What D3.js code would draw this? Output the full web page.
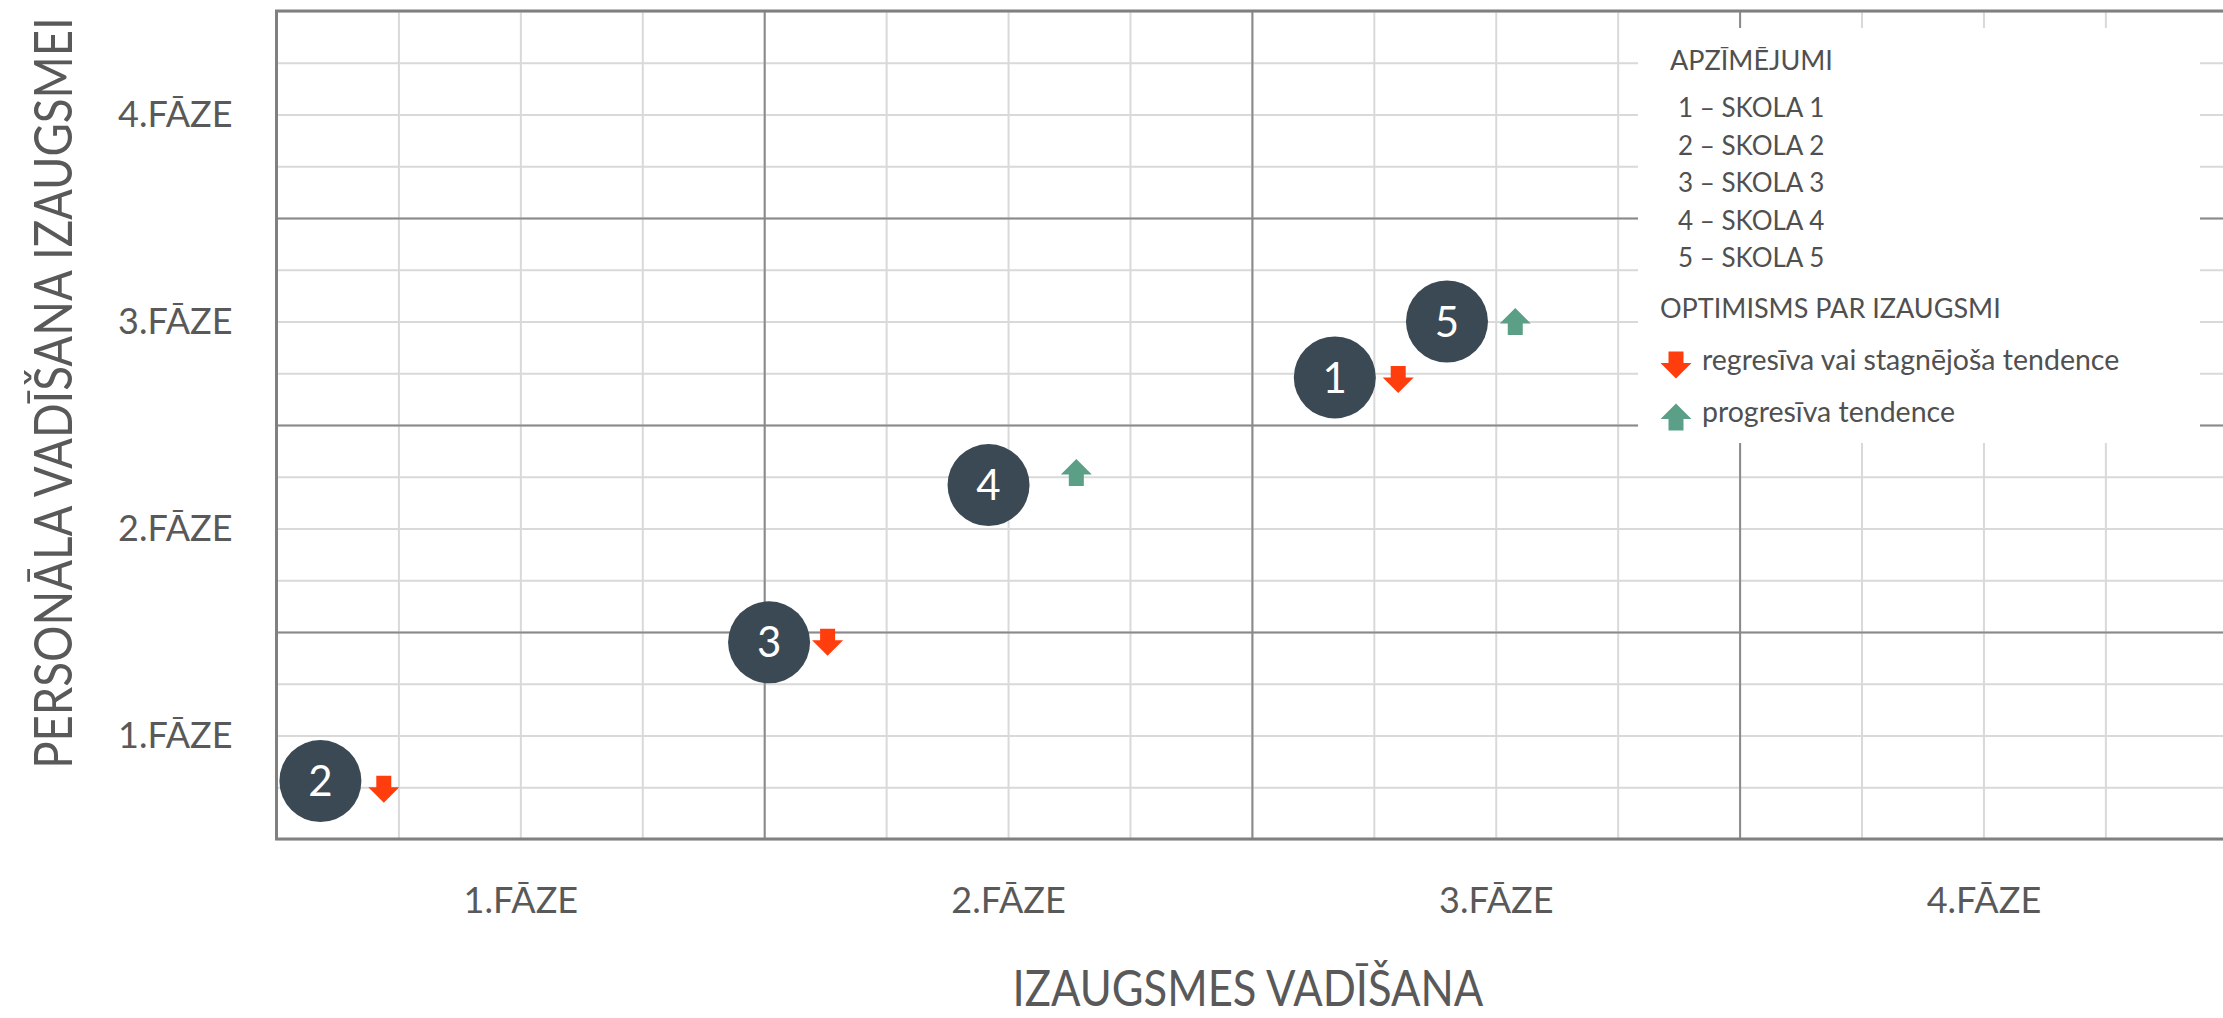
<!DOCTYPE html>
<html>
<head>
<meta charset="utf-8">
<script src="https://cdn.jsdelivr.net/npm/d3@7"></script>
<style>
    html, body { margin: 0; padding: 0; background: #fff; }
    svg { display: block; }
    text { font-family: Lato, "Open Sans", sans-serif; }
</style>
</head>
<body>
<svg id="chart" width="2223" height="1018"></svg>
<script>
// school positions, in phase units (0..4 on both axes)
var schools = ['1', '2', '3', '4', '5'];
var growthLeading = [2.17, 0.09, 1.01, 1.46, 2.40];
var staffLeading = [2.23, 0.28, 0.95, 1.71, 2.50];
// optimism arrow next to each school
var trends = ['down', 'down', 'down', 'up', 'up'];
var trendX = [2.30, 0.22, 1.13, 1.64, 2.54];
var trendY = [2.22, 0.24, 0.95, 1.77, 2.50];

var phaseLabels = ['1.FĀZE', '2.FĀZE', '3.FĀZE', '4.FĀZE'];
var phaseCenters = [0.5, 1.5, 2.5, 3.5];
var xTitle = 'IZAUGSMES VADĪŠANA';
var yTitle = 'PERSONĀLA VADĪŠANA IZAUGSMEI';
var legendTitle = 'APZĪMĒJUMI';
var legendSchools = ['1 – SKOLA 1', '2 – SKOLA 2', '3 – SKOLA 3', '4 – SKOLA 4', '5 – SKOLA 5'];
var trendTitle = 'OPTIMISMS PAR IZAUGSMI';
var trendKeys = ['down', 'up'];
var trendLabels = ['regresīva vai stagnējoša tendence', 'progresīva tendence'];

(function() {
    var left = 276.5;
    var top = 11;
    var bottom = 839;
    var phaseW = 487.7;

    var colors = { down: '#ff3d0d', up: '#5b9f87' };
    var dotColor = '#3a4954';
    var textColor = '#595959';

    var svg = d3.select('#chart');

    var x = d3.scaleLinear().domain([0, 4]).range([left, left + 4 * phaseW]);
    var y = d3.scaleLinear().domain([0, 4]).range([bottom, top]);

    var minorTicks = d3.range(0, 17).map(function(d) { return d / 4; });
    var majorTicks = [1, 2, 3];

    function grid(g, axis, color, width) {
        g.call(axis);
        g.select('.domain').remove();
        g.selectAll('.tick line').attr('stroke', color).attr('stroke-width', width);
    }

    // minor grid
    svg.append('g')
        .attr('transform', 'translate(0,' + bottom + ')')
        .call(grid, d3.axisBottom(x).tickValues(minorTicks).tickSize(-(bottom - top)).tickFormat(''), '#d9d9d9', 2);
    svg.append('g')
        .attr('transform', 'translate(' + left + ',0)')
        .call(grid, d3.axisLeft(y).tickValues(minorTicks).tickSize(-(x(4) - left)).tickFormat(''), '#d9d9d9', 2);

    // major grid
    svg.append('g')
        .attr('transform', 'translate(0,' + bottom + ')')
        .call(grid, d3.axisBottom(x).tickValues(majorTicks).tickSize(-(bottom - top)).tickFormat(''), '#8a8a8a', 2);
    svg.append('g')
        .attr('transform', 'translate(' + left + ',0)')
        .call(grid, d3.axisLeft(y).tickValues(majorTicks).tickSize(-(x(4) - left)).tickFormat(''), '#8a8a8a', 2);

    // frame
    svg.append('path')
        .attr('d', 'M' + x(4) + ',' + top + 'H' + left + 'V' + bottom + 'H' + x(4))
        .attr('fill', 'none')
        .attr('stroke', '#808080')
        .attr('stroke-width', 3);

    // phase labels
    var xAxis = svg.append('g')
        .attr('transform', 'translate(0,' + bottom + ')')
        .call(d3.axisBottom(x).tickValues(phaseCenters).tickSize(0).tickPadding(48)
            .tickFormat(function(d, i) { return phaseLabels[i]; }));
    var yAxis = svg.append('g')
        .attr('transform', 'translate(' + left + ',0)')
        .call(d3.axisLeft(y).tickValues(phaseCenters).tickSize(0).tickPadding(44)
            .tickFormat(function(d, i) { return phaseLabels[i]; }));
    [xAxis, yAxis].forEach(function(g) {
        g.select('.domain').remove();
        g.selectAll('text')
            .attr('fill', textColor)
            .style('font-size', '36px')
            .style('font-family', 'Lato, "Open Sans", sans-serif');
    });

    // axis titles, squeezed to the narrow width of the original font
    function title(txt, size, width, place) {
        var t = svg.append('text')
            .attr('text-anchor', 'middle')
            .attr('fill', textColor)
            .style('font-size', size + 'px')
            .text(txt);
        var k = Math.min(1, width / t.node().getComputedTextLength());
        t.attr('transform', place + ' scale(' + k + ',1)');
    }
    title(xTitle, 50, 471, 'translate(' + (x(2) - 4) + ',1006)');
    title(yTitle, 52, 752, 'translate(72,393) rotate(-90)');

    // legend
    var legend = svg.append('g');
    legend.append('rect')
        .attr('x', 1638)
        .attr('y', 28)
        .attr('width', 562)
        .attr('height', 415)
        .attr('fill', '#fff');
    legend.append('text')
        .attr('x', 1670)
        .attr('y', 70)
        .attr('fill', '#505050')
        .style('font-size', '27px')
        .text(legendTitle);
    legend.selectAll('.school-key')
        .data(legendSchools)
        .enter().append('text')
        .attr('class', 'school-key')
        .attr('x', 1678)
        .attr('y', function(d, i) { return 117 + i * 37.5; })
        .attr('fill', '#505050')
        .style('font-size', '26px')
        .text(function(d) { return d; });
    legend.append('text')
        .attr('x', 1660)
        .attr('y', 318)
        .attr('fill', '#505050')
        .style('font-size', '27px')
        .text(trendTitle);

    function arrowPath(dir) {
        var hw = 15.5, sw = 7.5, h = 13.5, neck = -2;
        var s = dir === 'down' ? 1 : -1;
        return 'M' + (-sw) + ',' + (-h * s) + 'L' + sw + ',' + (-h * s) +
            'L' + sw + ',' + (neck * s) + 'L' + hw + ',' + (neck * s) +
            'L0,' + (h * s) + 'L' + (-hw) + ',' + (neck * s) +
            'L' + (-sw) + ',' + (neck * s) + 'Z';
    }

    var keys = legend.selectAll('.trend-key')
        .data(trendKeys)
        .enter().append('g')
        .attr('class', 'trend-key')
        .attr('transform', function(d, i) { return 'translate(1676,' + (365 + i * 52) + ')'; });
    keys.append('path')
        .attr('d', function(d) { return arrowPath(d); })
        .attr('fill', function(d) { return colors[d]; });
    keys.append('text')
        .attr('x', 26)
        .attr('y', 5)
        .attr('fill', '#505050')
        .style('font-size', '28.5px')
        .text(function(d, i) { return trendLabels[i]; });

    // schools
    var dots = svg.append('g').selectAll('.school')
        .data(schools)
        .enter().append('g')
        .attr('class', 'school');
    dots.append('circle')
        .attr('cx', function(d, i) { return x(growthLeading[i]); })
        .attr('cy', function(d, i) { return y(staffLeading[i]); })
        .attr('r', 41)
        .attr('fill', dotColor);
    dots.append('text')
        .attr('x', function(d, i) { return x(growthLeading[i]); })
        .attr('y', function(d, i) { return y(staffLeading[i]); })
        .attr('dy', '0.36em')
        .attr('text-anchor', 'middle')
        .attr('fill', '#fff')
        .style('font-size', '42px')
        .text(function(d) { return d; });
    dots.append('path')
        .attr('transform', function(d, i) { return 'translate(' + x(trendX[i]) + ',' + y(trendY[i]) + ')'; })
        .attr('d', function(d, i) { return arrowPath(trends[i]); })
        .attr('fill', function(d, i) { return colors[trends[i]]; });
})();
</script>
</body>
</html>
